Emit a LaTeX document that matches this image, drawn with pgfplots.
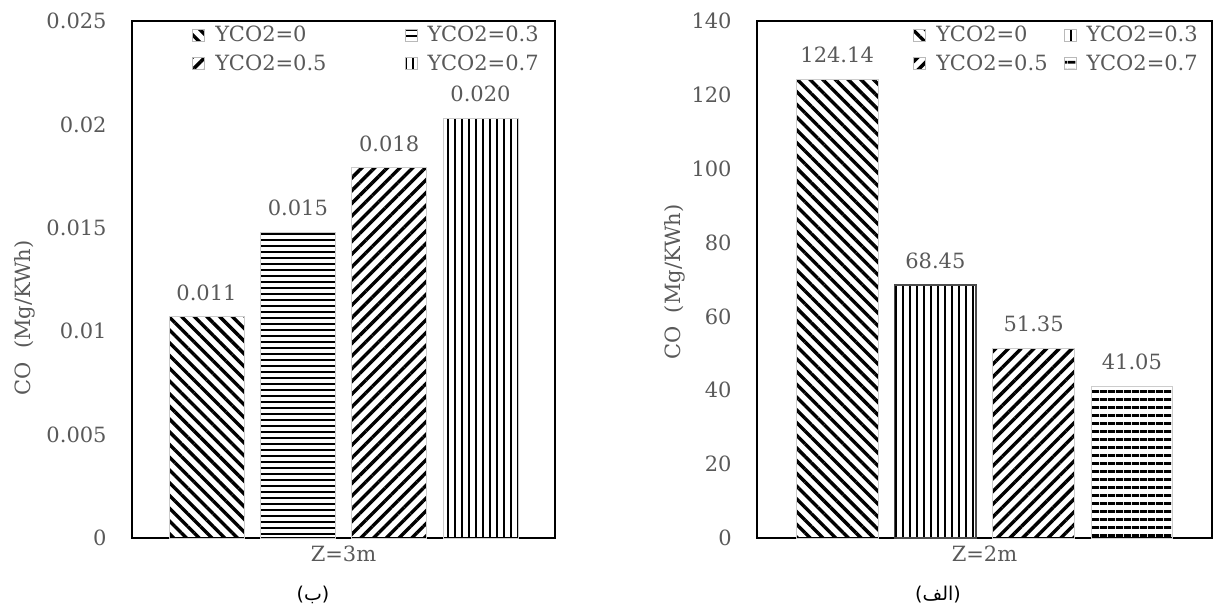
\documentclass[border=0pt]{standalone}
\usepackage{pgfplots}
\pgfplotsset{compat=1.18}
\usepackage{fontspec}
\setmainfont{DejaVu Serif}
\newfontfamily\arabicfont[Script=Arabic]{DejaVu Sans}
\newfontfamily\capfont{DejaVu Sans}
\TeXXeTstate=1
\usetikzlibrary{patterns.meta}
\definecolor{tickgray}{HTML}{595959}
\newcommand\chfont{\fontsize{10.5}{12}\selectfont}
\pgfplotsset{
  common/.style={
    scale only axis, ybar,
    xmin=0.184, xmax=4.816, ymin=0,
    xtick={2.5},
    scaled y ticks=false,
    major tick length=0pt,
    axis line style={black, line width=0.75pt},
    tick label style={font=\chfont, text=tickgray},
    yticklabel style={inner sep=0pt, xshift=-12.5pt},
    xticklabel style={inner sep=0pt, yshift=-4pt},
    label style={font=\chfont, text=tickgray},
    ylabel={CO~~(Mg/KWh)},
    nodes near coords, point meta=explicit symbolic,
    every node near coord/.append style={anchor=south, inner sep=0pt, yshift=8pt, font=\chfont, text=tickgray},
    legend columns=2, legend cell align=left,
    legend image code/.code={\draw[##1,draw=gray!55,line width=0.5pt] (0pt,-3pt) rectangle (6pt,3pt);},
    legend style={draw=none, fill=none, inner sep=0pt, row sep=5pt, font=\chfont, text=tickgray, nodes={inner sep=0pt},
      /tikz/every odd column/.append style={column sep=5pt}},
  },
  pNW/.style={pattern={Lines[angle=-45,distance=4.5pt,line width=1.7pt]}, draw=gray!40, line width=0.4pt, bar shift=0pt, bar width=0.82},
  pNE/.style={pattern={Lines[angle=45,distance=4.5pt,line width=1.7pt]}, draw=gray!40, line width=0.4pt, bar shift=0pt, bar width=0.82},
  pH/.style={pattern={Lines[angle=0,distance=3pt,line width=1.4pt]}, draw=gray!40, line width=0.4pt, bar shift=0pt, bar width=0.82},
  pV/.style={pattern={Lines[angle=90,distance=3.5pt,line width=1.3pt]}, draw=gray!40, line width=0.4pt, bar shift=0pt, bar width=0.82},
  pV2/.style={pattern={Lines[angle=90,distance=3.5pt,line width=0.9pt]}, draw=gray!60!black, line width=0.8pt, bar shift=0pt, bar width=0.83},
  pH2/.style={pattern={Lines[angle=0,distance=4pt,line width=1.5pt]}, draw=gray!40, line width=0.4pt, bar shift=0pt, bar width=0.83},
}
\begin{document}
\begin{tikzpicture}
\path[use as bounding box] (0,0) rectangle (606.5pt,303pt);
% left panel (b)
\begin{axis}[common,
  at={(66pt,34pt)}, anchor=south west,
  width=211.5pt, height=258.5pt,
  ymax=0.025,
  ytick={0,0.005,0.01,0.015,0.02,0.025},
  yticklabels={{0},{0.005},{0.01},{0.015},{0.02},{0.025}},
  xticklabels={Z=3m},
  ylabel style={at={(axis description cs:-0.253,0.4255)}, anchor=center},
  legend style={at={(axis description cs:0.142,0.991)}, anchor=north west,
    /tikz/every even column/.append style={column sep=39pt}},
]
\addplot[pNW] coordinates {(1,0.0107) [0.011]};
\addplot[pH] coordinates {(2,0.0148) [0.015]};
\addplot[pNE] coordinates {(3,0.0179) [0.018]};
\addplot[pV] coordinates {(4,0.0203) [0.020]};
\legend{YCO2=0,YCO2=0.3,YCO2=0.5,YCO2=0.7}
\end{axis}
% right panel (alef)
\begin{axis}[common,
  at={(378.5pt,34pt)}, anchor=south west,
  width=227.5pt, height=258.5pt,
  ymax=140,
  ytick={0,20,40,60,80,100,120,140},
  yticklabels={{0},{20},{40},{60},{80},{100},{120},{140}},
  xticklabels={Z=2m},
  ylabel style={at={(axis description cs:-0.180,0.495)}, anchor=center},
  legend style={at={(axis description cs:0.343,0.991)}, anchor=north west,
    /tikz/every even column/.append style={column sep=8pt}},
]
\addplot[pNW,bar width=0.83] coordinates {(1,124.14) [124.14]};
\addplot[pV2] coordinates {(2,68.45) [68.45]};
\addplot[pNE,bar width=0.83] coordinates {(3,51.35) [51.35]};
\addplot[pH2] coordinates {(4,41.05) [41.05]};
\legend{YCO2=0,YCO2=0.3,YCO2=0.5,YCO2=0.7}
\end{axis}
\node[inner sep=0pt, font=\fontsize{9.5}{11}\selectfont] at (156.5pt,5.5pt) {\mbox{\capfont(}\mbox{\arabicfont ب}\mbox{\capfont)}};
\node[inner sep=0pt, font=\fontsize{9.5}{11}\selectfont] at (469pt,5.5pt) {\mbox{\capfont(}\mbox{\arabicfont\beginR الف\endR}\mbox{\capfont)}};
\end{tikzpicture}
\end{document}
